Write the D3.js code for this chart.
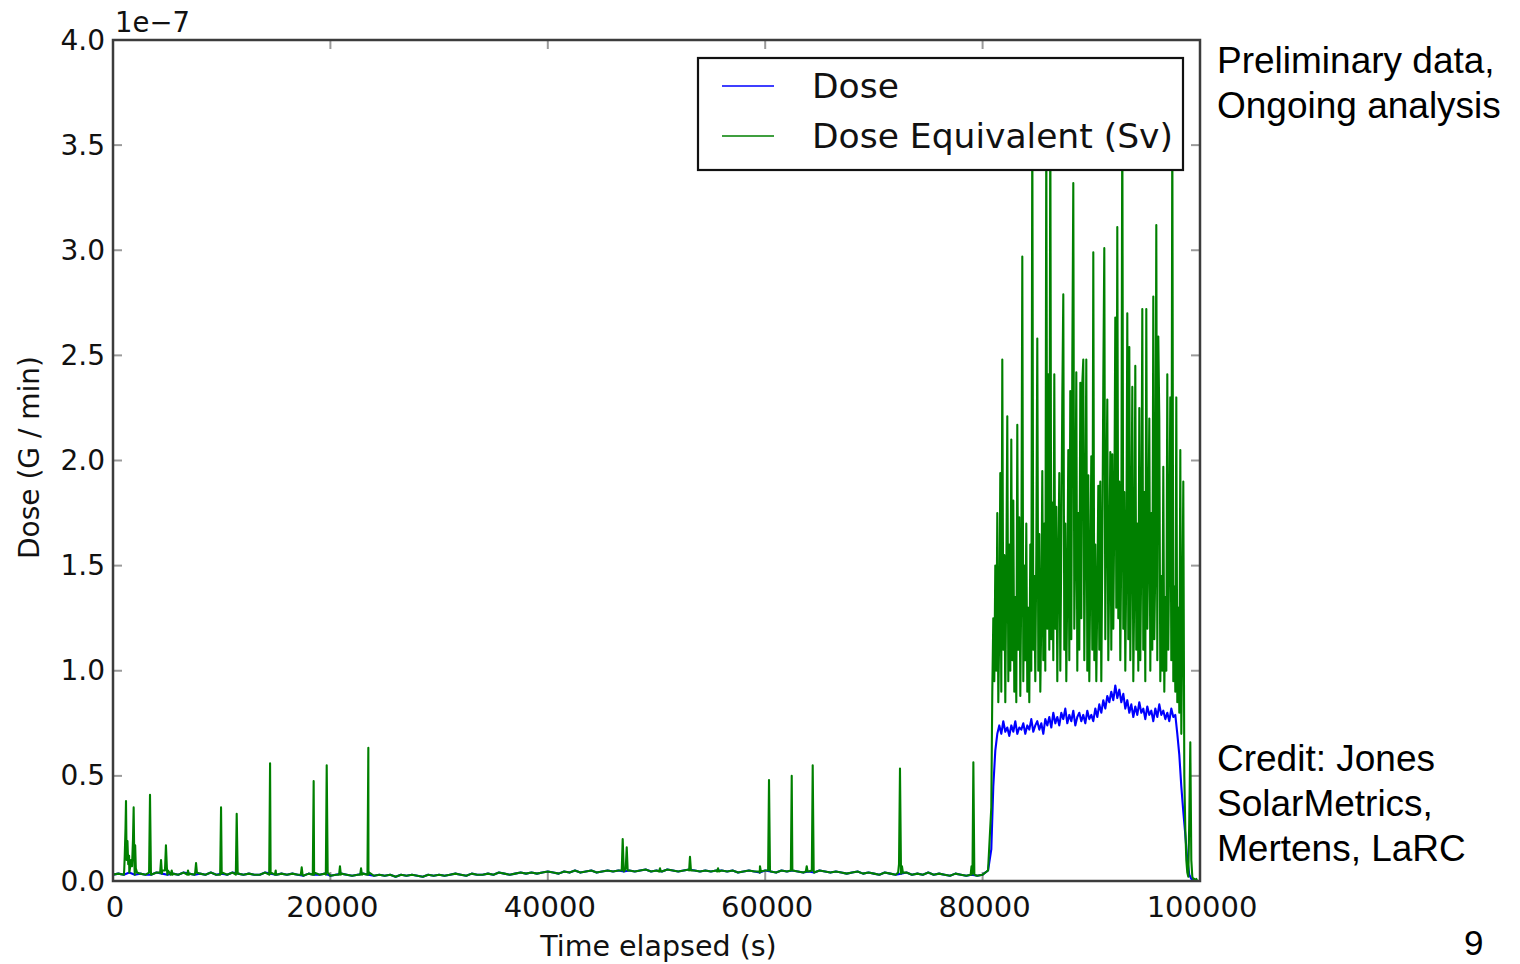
<!DOCTYPE html>
<html>
<head>
<meta charset="utf-8">
<script src="https://cdn.jsdelivr.net/npm/d3@7/dist/d3.min.js"></script>
<style>
  html, body { margin: 0; padding: 0; background: #fff; }
  svg { display: block; }
</style>
</head>
<body>
<svg id="chart" width="1520" height="964"></svg>
<script>
// Dose readings, in units of 1e-7 (G / min), against time elapsed (s).

// Quiet phase: background level sampled every 500 s from t = 0 to 80500 s.
const baseStep = 500;
const baseDose = [
  0.03,0.035,0.03,0.04,0.03,0.035,0.03,0.03,0.04,0.035,0.03,0.035,0.03,0.04,0.035,0.03,
  0.035,0.03,0.04,0.03,0.035,0.03,0.04,0.035,0.03,0.035,0.03,0.03,0.04,0.035,0.03,0.035,
  0.03,0.035,0.03,0.025,0.035,0.03,0.03,0.035,0.025,0.03,0.035,0.03,0.025,0.03,0.035,0.03,
  0.025,0.03,0.025,0.03,0.02,0.03,0.025,0.03,0.025,0.02,0.03,0.025,0.03,0.025,0.03,0.035,
  0.03,0.025,0.035,0.03,0.03,0.035,0.03,0.04,0.035,0.03,0.035,0.04,0.035,0.04,0.035,0.04,
  0.045,0.04,0.035,0.045,0.04,0.05,0.04,0.045,0.05,0.04,0.045,0.05,0.045,0.05,0.045,0.05,
  0.045,0.05,0.055,0.045,0.05,0.045,0.055,0.05,0.045,0.05,0.055,0.05,0.045,0.05,0.045,0.05,
  0.05,0.045,0.05,0.04,0.045,0.05,0.045,0.04,0.05,0.045,0.04,0.05,0.045,0.05,0.045,0.04,
  0.045,0.04,0.05,0.045,0.04,0.045,0.04,0.035,0.04,0.045,0.035,0.04,0.035,0.03,0.04,0.035,
  0.03,0.035,0.04,0.03,0.035,0.03,0.04,0.03,0.035,0.03,0.025,0.035,0.03,0.025,0.03,0.025,
  0.03,0.05
];

// Short dose-equivalent bursts during the quiet phase: [time (s), value].
const eqBursts = [
  [1030,0.05],[1080,0.12],[1150,0.25],[1196,0.38],[1250,0.1],[1330,0.19],[1400,0.08],
  [1480,0.12],[1560,0.06],[1650,0.1],[1750,0.07],[1840,0.2],[1900,0.35],[1960,0.1],
  [2040,0.17],[2100,0.06],[2210,0.04],
  [3320,0.04],[3404,0.41],[3490,0.04],
  [4340,0.04],[4420,0.1],[4520,0.05],[4780,0.05],[4870,0.17],[4960,0.06],[5060,0.05],
  [5320,0.03],[5400,0.05],[5480,0.03],
  [6820,0.03],[6900,0.05],[6980,0.03],
  [7560,0.04],[7640,0.085],[7720,0.04],
  [9860,0.03],[9940,0.35],[10030,0.04],
  [11300,0.03],[11380,0.32],[11470,0.04],
  [14370,0.03],[14450,0.56],[14540,0.04],
  [14890,0.03],[14970,0.05],[15050,0.03],
  [17280,0.03],[17360,0.065],[17440,0.03],
  [18380,0.03],[18460,0.475],[18550,0.04],
  [19580,0.03],[19660,0.55],[19750,0.04],
  [20800,0.03],[20880,0.07],[20960,0.03],
  [22740,0.03],[22820,0.06],[22900,0.03],
  [23410,0.03],[23490,0.634],[23580,0.04],
  [46800,0.05],[46890,0.2],[46980,0.06],[47170,0.06],[47260,0.16],[47350,0.05],
  [50240,0.045],[50320,0.06],[50400,0.045],
  [53000,0.05],[53080,0.115],[53170,0.05],
  [55580,0.045],[55660,0.06],[55740,0.045],
  [59440,0.045],[59520,0.07],[59600,0.045],
  [60270,0.05],[60350,0.48],[60440,0.05],
  [62360,0.05],[62440,0.50],[62530,0.05],
  [63740,0.045],[63820,0.07],[63900,0.045],
  [64290,0.05],[64370,0.55],[64460,0.05],
  [72230,0.04],[72310,0.08],[72400,0.535],[72490,0.06],[72580,0.07],[72670,0.04],
  [78900,0.03],[78980,0.07],[79070,0.04],[79150,0.565],[79240,0.03]
];

// Active phase from t = 80800 s: dose equivalent every 92 s, dose every 184 s.
const activeStart = 80800;
const eqStep = 92;
const eqActive = [
  0.35,0.9,1.25,0.95,1.5,1.0,1.75,0.85,1.2,1.94,
  0.9,2.48,1.1,1.55,0.85,1.45,2.21,0.95,1.6,1.0,
  2.10,1.05,1.81,0.9,1.35,0.85,2.17,1.1,1.73,0.88,
  1.4,2.97,0.95,1.5,1.05,1.7,0.9,1.3,0.85,1.6,
  1.0,3.65,1.1,1.45,0.95,1.55,2.58,1.0,1.65,0.9,
  1.25,1.95,1.05,1.7,1.0,3.6,1.2,2.41,1.1,3.7,
  1.15,1.8,1.05,2.41,1.2,1.78,0.95,1.5,1.94,1.0,
  1.6,2.30,2.79,1.1,1.7,0.95,1.4,2.05,1.05,2.33,
  1.15,2.45,3.32,1.2,1.6,2.42,1.0,1.75,1.1,2.37,
  1.25,2.37,2.48,1.05,1.7,2.48,1.0,1.93,0.95,1.45,
  2.02,1.1,2.99,1.05,1.6,0.95,1.35,1.88,1.1,1.90,
  0.95,1.55,2.38,3.01,1.15,1.8,2.29,1.05,1.5,2.04,
  1.1,2.03,1.2,1.75,2.68,1.3,3.11,1.25,1.9,1.05,
  1.6,3.7,1.2,1.85,1.0,1.5,2.70,1.15,2.54,1.05,
  1.6,2.35,0.95,1.4,2.45,1.1,1.7,1.0,2.25,1.05,
  1.55,2.72,1.1,1.85,0.95,2.72,1.2,1.6,2.2,1.0,
  1.75,1.1,2.78,1.15,1.5,3.12,1.05,2.59,2.2,0.95,
  1.45,1.0,1.97,0.9,1.35,1.0,2.41,1.1,1.6,2.3,
  1.05,3.65,0.95,1.4,0.9,2.30,0.85,1.3,0.8,2.05,
  0.7,1.2,1.9,0.5,0.25,0.1,0.04,0.02,0.3,0.66,
  0.1,0.02,0.01,0.01,0.0,0.01,0.0,0.0,0.0,0.0
];
const doseStep = 184;
const doseActive = [
  0.15,0.45,0.62,0.70,0.74,0.70,0.76,0.71,0.73,0.69,
  0.74,0.71,0.76,0.70,0.73,0.72,0.75,0.70,0.74,0.72,
  0.77,0.71,0.74,0.76,0.72,0.75,0.70,0.77,0.74,0.78,
  0.73,0.80,0.75,0.78,0.74,0.80,0.77,0.82,0.75,0.79,
  0.76,0.81,0.74,0.78,0.80,0.76,0.79,0.75,0.81,0.77,
  0.79,0.76,0.82,0.78,0.84,0.80,0.86,0.82,0.88,0.85,
  0.90,0.86,0.93,0.87,0.91,0.85,0.89,0.82,0.86,0.80,
  0.84,0.78,0.83,0.79,0.85,0.80,0.82,0.77,0.83,0.79,
  0.81,0.76,0.82,0.78,0.84,0.79,0.81,0.77,0.80,0.76,
  0.82,0.78,0.79,0.70,0.60,0.45,0.33,0.22,0.10,0.03,
  0.01,0.0,0.0,0.0,0.0
];

const xTicks = [0, 20000, 40000, 60000, 80000, 100000];
const yTicks = [0, 0.5, 1.0, 1.5, 2.0, 2.5, 3.0, 3.5, 4.0];
const seriesNames = ["Dose", "Dose Equivalent (Sv)"];
const seriesColors = ["#0000ff", "#008000"];
const noteTop = ["Preliminary data,", "Ongoing analysis"];
const noteBottom = ["Credit: Jones", "SolarMetrics,", "Mertens, LaRC"];
const pageNumber = "9";

// Build the two series as [time, value] points.
const basePoints = baseDose.map((v, i) => [i * baseStep, v]);
const doseSeries = basePoints.concat(doseActive.map((v, i) => [activeStart + i * doseStep, v]));
const eqSeries = basePoints.concat(eqBursts)
  .sort((a, b) => a[0] - b[0])
  .concat(eqActive.map((v, i) => [activeStart + i * eqStep, v]));

const svg = d3.select("#chart");
const plotLeft = 113, plotRight = 1200, plotTop = 40, plotBottom = 881;

const x = d3.scaleLinear().domain([0, 100000]).range([plotLeft, plotRight]);
const y = d3.scaleLinear().domain([0, 4]).range([plotBottom, plotTop]);

const font = "'DejaVu Sans', sans-serif";

svg.append("defs").append("clipPath").attr("id", "plot-clip")
  .append("rect").attr("x", plotLeft).attr("y", plotTop)
  .attr("width", plotRight - plotLeft).attr("height", plotBottom - plotTop);

// Tick marks pointing inward on all four sides.
const tickColor = "#9a9a9a", tickLen = 9;
const tickG = svg.append("g");
tickG.append("g").selectAll("line").data(yTicks).join("line")
  .attr("x1", plotLeft).attr("x2", plotLeft + tickLen)
  .attr("y1", d => y(d)).attr("y2", d => y(d))
  .attr("stroke", tickColor).attr("stroke-width", 2);
tickG.append("g").selectAll("line").data(yTicks).join("line")
  .attr("x1", plotRight).attr("x2", plotRight - tickLen)
  .attr("y1", d => y(d)).attr("y2", d => y(d))
  .attr("stroke", tickColor).attr("stroke-width", 2);
tickG.append("g").selectAll("line").data(xTicks).join("line")
  .attr("x1", d => x(d)).attr("x2", d => x(d))
  .attr("y1", plotBottom).attr("y2", plotBottom - tickLen)
  .attr("stroke", tickColor).attr("stroke-width", 2);
tickG.append("g").selectAll("line").data(xTicks).join("line")
  .attr("x1", d => x(d)).attr("x2", d => x(d))
  .attr("y1", plotTop).attr("y2", plotTop + tickLen)
  .attr("stroke", tickColor).attr("stroke-width", 2);

// Data lines
const line = d3.line().x(d => x(d[0])).y(d => y(d[1]));
const plot = svg.append("g").attr("clip-path", "url(#plot-clip)");
plot.append("path").datum(doseSeries).attr("d", line)
  .attr("fill", "none").attr("stroke", seriesColors[0])
  .attr("stroke-width", 2.1).attr("stroke-linejoin", "round");
plot.append("path").datum(eqSeries).attr("d", line)
  .attr("fill", "none").attr("stroke", seriesColors[1])
  .attr("stroke-width", 2.1).attr("stroke-linejoin", "round");

// Frame
svg.append("rect").attr("x", plotLeft).attr("y", plotTop)
  .attr("width", plotRight - plotLeft).attr("height", plotBottom - plotTop)
  .attr("fill", "none").attr("stroke", "#3c3c3c").attr("stroke-width", 2.5);

// Tick labels
svg.append("g").selectAll("text").data(yTicks).join("text")
  .attr("x", plotLeft - 8).attr("y", d => y(d) + 9.5)
  .attr("text-anchor", "end")
  .attr("font-family", font).attr("font-size", 28).attr("fill", "#111")
  .text(d => d3.format(".1f")(d));
svg.append("g").selectAll("text").data(xTicks).join("text")
  .attr("x", d => x(d) + 2).attr("y", 917)
  .attr("text-anchor", "middle")
  .attr("font-family", font).attr("font-size", 29).attr("fill", "#111")
  .text(d => String(d));

// Offset (exponent) label
svg.append("text").attr("x", 115).attr("y", 32)
  .attr("font-family", font).attr("font-size", 27.5).attr("fill", "#111")
  .text("1e\u22127");

// Axis titles
svg.append("text").attr("x", (plotLeft + plotRight) / 2 + 2).attr("y", 956)
  .attr("text-anchor", "middle")
  .attr("font-family", font).attr("font-size", 28.5).attr("fill", "#111")
  .text("Time elapsed (s)");
svg.append("text")
  .attr("transform", `translate(39, ${(plotTop + plotBottom) / 2 - 3}) rotate(-90)`)
  .attr("text-anchor", "middle")
  .attr("font-family", font).attr("font-size", 28).attr("fill", "#111")
  .text("Dose (G / min)");

// Legend
const legend = svg.append("g");
legend.append("rect").attr("x", 698).attr("y", 58).attr("width", 485).attr("height", 112)
  .attr("fill", "#fff").attr("stroke", "#111").attr("stroke-width", 2.2);
seriesNames.forEach((name, i) => {
  const ly = 86 + i * 50;
  legend.append("line").attr("x1", 722).attr("x2", 774).attr("y1", ly).attr("y2", ly)
    .attr("stroke", seriesColors[i]).attr("stroke-width", 2.2).attr("opacity", 0.75);
  legend.append("text").attr("x", 812).attr("y", ly + 12)
    .attr("font-family", font).attr("font-size", 34.5).attr("fill", "#111")
    .text(name);
});

// Side notes
const noteFont = "'Liberation Sans', Arial, sans-serif";
svg.append("g").selectAll("text").data(noteTop).join("text")
  .attr("x", 1217).attr("y", (d, i) => 73 + i * 45)
  .attr("font-family", noteFont).attr("font-size", 37).attr("fill", "#000")
  .text(d => d);
svg.append("g").selectAll("text").data(noteBottom).join("text")
  .attr("x", 1217).attr("y", (d, i) => 771 + i * 45)
  .attr("font-family", noteFont).attr("font-size", 37).attr("fill", "#000")
  .text(d => d);
svg.append("text").attr("x", 1464).attr("y", 955)
  .attr("font-family", noteFont).attr("font-size", 35).attr("fill", "#000")
  .text(pageNumber);
</script>
</body>
</html>
